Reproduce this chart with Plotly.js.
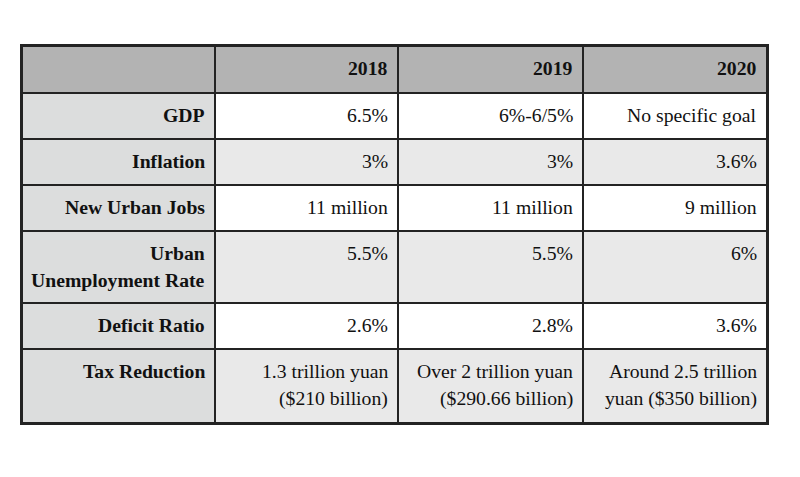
<!DOCTYPE html>
<html>
<head>
<meta charset="utf-8">
<script src="https://cdn.plot.ly/plotly-3.0.1.min.js"></script>
<style>html,body{margin:0;padding:0;background:#fff;}#chart{width:800px;height:477px;}</style>
</head>
<body>
<div id="chart"></div>
<script>
// ---- data ----
var years = ["2018", "2019", "2020"];
var indicators = ["GDP", "Inflation", "New Urban Jobs", "Urban<br>Unemployment Rate", "Deficit Ratio", "Tax Reduction"];
var values2018 = ["6.5%", "3%", "11 million", "5.5%", "2.6%", "1.3 trillion yuan<br>($210 billion)"];
var values2019 = ["6%-6/5%", "3%", "11 million", "5.5%", "2.8%", "Over 2 trillion yuan<br>($290.66 billion)"];
var values2020 = ["No specific goal", "3.6%", "9 million", "6%", "3.6%", "Around 2.5 trillion<br>yuan ($350 billion)"];

// ---- layout of the grid (pixel units of the table) ----
var colWidths = [193, 183, 185, 184];
var rowHeights = [47, 46, 46, 46, 72, 46, 74];
var colEdges = [0], rowEdges = [0];
colWidths.forEach(function(w){ colEdges.push(colEdges[colEdges.length-1] + w); });
rowHeights.forEach(function(h){ rowEdges.push(rowEdges[rowEdges.length-1] + h); });
var tableW = colEdges[colEdges.length-1], tableH = rowEdges[rowEdges.length-1];

var FONT = "Liberation Serif, Times New Roman, Times, serif";
var FS = 19.7, LINE_GAP = 27.4, TOP_SHIFT = -9, RIGHT_PAD = -8;

// grid content: row 0 header, then one row per indicator
var columns = [indicators, values2018, values2019, values2020];
var grid = [[""].concat(years)];
indicators.forEach(function(_, i){
  grid.push(columns.map(function(col){ return col[i]; }));
});

// fill codes: 0 white, 1 light grey, 2 label column, 3 header
var z = grid.map(function(row, r){
  return row.map(function(_, c){
    if (r === 0) return 3;
    if (c === 0) return 2;
    return (r % 2 === 1) ? 0 : 1;
  });
});

var heat = {
  type: "heatmap",
  x: colEdges, y: rowEdges, z: z,
  zmin: 0, zmax: 3,
  colorscale: [[0,"#ffffff"],[0.1667,"#ffffff"],[0.1667,"#e9e9e9"],[0.5,"#e9e9e9"],
               [0.5,"#dcdddd"],[0.8333,"#dcdddd"],[0.8333,"#b3b3b3"],[1,"#b3b3b3"]],
  showscale: false, xgap: 2, ygap: 2, hoverinfo: "skip"
};

var annotations = [];
grid.forEach(function(row, r){
  row.forEach(function(txt, c){
    if (!txt) return;
    var bold = (r === 0 || c === 0);
    txt.split("<br>").forEach(function(line, k){
      annotations.push({
        x: colEdges[c+1], y: rowEdges[r], xref: "x", yref: "y",
        xanchor: "right", yanchor: "top",
        xshift: RIGHT_PAD, yshift: TOP_SHIFT - k * LINE_GAP,
        text: bold ? "<b>" + line + "</b>" : line,
        showarrow: false, align: "right",
        font: {family: FONT, size: FS, color: "#111111"}
      });
    });
  });
});

var axisCommon = {showgrid: false, zeroline: false, showticklabels: false, ticks: "",
  showline: true, mirror: true, linecolor: "#232323", linewidth: 2, fixedrange: true};

var layout = {
  width: 800, height: 477,
  margin: {l: 0, r: 0, t: 0, b: 0},
  paper_bgcolor: "#ffffff", plot_bgcolor: "#232323",
  showlegend: false,
  xaxis: Object.assign({domain: [22/800, 767/800], range: [0, tableW]}, axisCommon),
  yaxis: Object.assign({domain: [54/477, 431/477], range: [tableH, 0]}, axisCommon),
  annotations: annotations
};

Plotly.newPlot("chart", [heat], layout, {displayModeBar: false, staticPlot: true});
</script>
</body>
</html>
